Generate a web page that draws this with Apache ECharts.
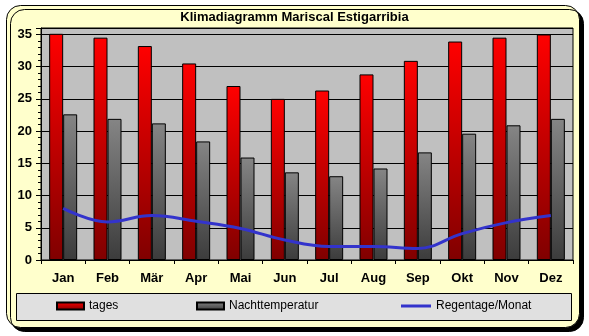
<!DOCTYPE html>
<html><head><meta charset="utf-8">
<script src="https://cdn.jsdelivr.net/npm/echarts@6/dist/echarts.min.js"></script>
<style>html,body{margin:0;padding:0;background:#fff}#c{width:589px;height:336px}</style>
</head><body><div id="c"></div>
<script>
const titleText = 'Klimadiagramm Mariscal Estigarribia';
const months = ['Jan','Feb','Mär','Apr','Mai','Jun','Jul','Aug','Sep','Okt','Nov','Dez'];
const tages = [35.1, 34.5, 33.2, 30.5, 27.0, 25.0, 26.3, 28.8, 30.9, 33.9, 34.5, 35.0];
const nacht = [22.6, 21.9, 21.2, 18.4, 15.9, 13.6, 13.0, 14.2, 16.7, 19.6, 20.9, 21.9];
const regen = [8.0, 5.9, 6.9, 6.0, 4.9, 3.1, 2.1, 2.1, 1.8, 4.1, 5.8, 6.9];
const yTicks = [0, 5, 10, 15, 20, 25, 30, 35];

const FONT = '"Liberation Sans", Arial, sans-serif';
const chart = echarts.init(document.getElementById('c'), null, {renderer: 'canvas'});
const redGrad = new echarts.graphic.LinearGradient(0, 0, 0, 1, [
  {offset: 0, color: '#ff0000'}, {offset: 1, color: '#800000'}]);
const grayGrad = new echarts.graphic.LinearGradient(0, 0, 0, 1, [
  {offset: 0, color: '#858585'}, {offset: 1, color: '#3c3c3c'}]);

chart.setOption({
  backgroundColor: '#ffffff',
  animation: false,
  graphic: [
    {type: 'rect', z: -100, silent: true,
     shape: {x: 6.5, y: 5.5, width: 573, height: 322, r: 14},
     style: {fill: '#ffffcc', stroke: '#000', lineWidth: 1,
             shadowColor: '#000', shadowOffsetX: 4, shadowOffsetY: 4, shadowBlur: 0}},
    {type: 'rect', z: -50, silent: true,
     shape: {x: 16.5, y: 293.5, width: 555, height: 27},
     style: {fill: '#e0e0e0', stroke: '#000', lineWidth: 1}}
  ],
  title: {
    text: titleText, left: 'center', top: 11, padding: 0,
    textStyle: {fontFamily: FONT, fontSize: 13, fontWeight: 'bold', color: '#000'}
  },
  legend: [
    {data: [{name: 'tages', icon: 'rect'}], left: 56, top: 300, padding: 0, itemWidth: 27, itemHeight: 7,
     textStyle: {fontFamily: FONT, fontSize: 12, color: '#000'}},
    {data: [{name: 'Nachttemperatur', icon: 'rect'}], left: 196, top: 300, padding: 0, itemWidth: 27, itemHeight: 7,
     textStyle: {fontFamily: FONT, fontSize: 12, color: '#000'}},
    {data: [{name: 'Regentage/Monat', icon: 'rect'}], left: 401, top: 300, padding: 0, itemWidth: 30, itemHeight: 3,
     textStyle: {fontFamily: FONT, fontSize: 12, color: '#000'}}
  ],
  grid: {left: 41, right: 16, top: 28, bottom: 76, show: true,
         backgroundColor: '#c0c0c0', borderColor: '#000', borderWidth: 1},
  xAxis: {
    type: 'category', data: months,
    axisLine: {lineStyle: {color: '#000', width: 1}},
    axisTick: {show: true, length: 4, lineStyle: {color: '#000'}},
    axisLabel: {fontFamily: FONT, fontSize: 13, fontWeight: 'bold', color: '#000', margin: 12}
  },
  yAxis: {
    type: 'value', min: 0, max: 36, interval: 5,
    axisLine: {show: true, lineStyle: {color: '#000', width: 1}},
    axisTick: {show: true, length: 5, lineStyle: {color: '#000'}},
    minorTick: {show: true, splitNumber: 5, length: 3, lineStyle: {color: '#000'}},
    splitLine: {show: true, lineStyle: {color: '#000', width: 1}},
    axisLabel: {fontFamily: FONT, fontSize: 13, fontWeight: 'bold', color: '#000', margin: 9,
      formatter: v => yTicks.includes(v) ? String(v) : ''}
  },
  series: [
    {name: 'tages', type: 'bar', data: tages, barWidth: 14, barGap: '0%',
     itemStyle: {color: redGrad, borderColor: '#000', borderWidth: 1}},
    {name: 'Nachttemperatur', type: 'bar', data: nacht, barWidth: 14, barGap: '0%',
     itemStyle: {color: grayGrad, borderColor: '#000', borderWidth: 1}},
    {name: 'Regentage/Monat', type: 'line', data: regen, smooth: 0.4, symbol: 'none',
     lineStyle: {color: '#3333cc', width: 3}, itemStyle: {color: '#3333cc'}}
  ]
});
</script></body></html>
